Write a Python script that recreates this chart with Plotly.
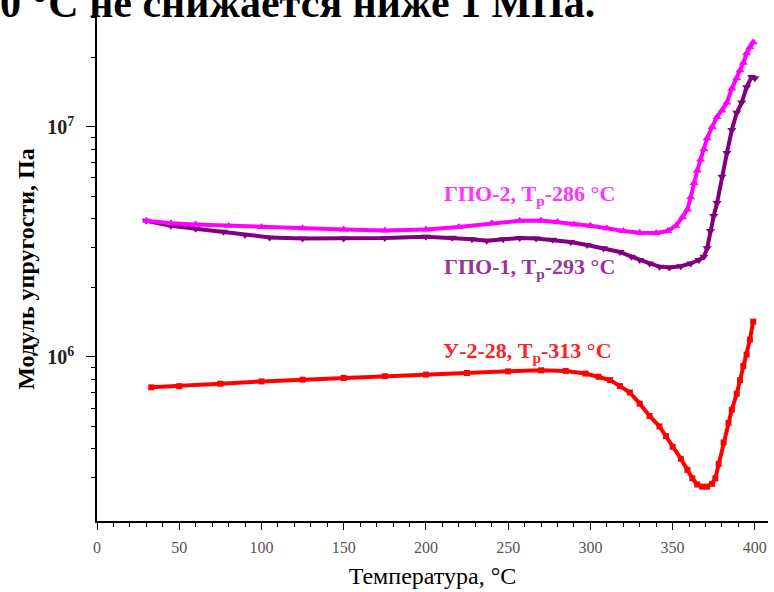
import plotly.graph_objects as go

# --- data ---
t_u228 = [33, 50, 75, 100, 125, 150, 175, 200, 225, 250, 270, 285, 297, 305, 312, 318,
          324, 330, 336, 342, 346, 350, 355, 359, 362, 365, 368, 371, 374, 376, 378, 381,
          384, 386, 389, 391, 393, 395, 397, 399]
e_u228 = [7.38e5, 7.47e5, 7.65e5, 7.83e5, 7.97e5, 8.11e5, 8.25e5, 8.38e5, 8.52e5, 8.66e5,
          8.75e5, 8.7e5, 8.47e5, 8.2e5, 7.93e5, 7.47e5, 7.01e5, 6.27e5, 5.54e5, 4.99e5,
          4.53e5, 4.07e5, 3.61e5, 3.23e5, 2.97e5, 2.79e5, 2.73e5, 2.73e5, 2.81e5, 2.97e5,
          3.43e5, 4.25e5, 5.17e5, 5.9e5, 6.92e5, 7.93e5, 9.14e5, 1.025e6, 1.19e6, 1.425e6]

t_gpo2 = [30, 45, 60, 80, 100, 125, 150, 175, 200, 220, 240, 257, 270, 280, 290, 300, 310,
          320, 330, 340, 347, 352, 356, 359, 361, 363, 365, 367, 369, 371, 374, 377, 380,
          383, 386, 389, 391, 393, 395, 397, 399]
e_gpo2 = [3.91e6, 3.81e6, 3.77e6, 3.72e6, 3.67e6, 3.63e6, 3.58e6, 3.55e6, 3.58e6, 3.67e6,
          3.81e6, 3.91e6, 3.92e6, 3.86e6, 3.77e6, 3.72e6, 3.63e6, 3.53e6, 3.47e6, 3.46e6,
          3.53e6, 3.72e6, 4.05e6, 4.38e6, 4.95e6, 5.71e6, 6.47e6, 7.22e6, 7.99e6, 8.94e6,
          9.99e6, 1.105e7, 1.18e7, 1.277e7, 1.468e7, 1.63e7, 1.765e7, 1.9e7, 2.09e7,
          2.22e7, 2.335e7]

t_gpo1 = [30, 45, 60, 77, 90, 105, 125, 150, 175, 200, 216, 228, 237, 247, 257, 267, 277,
          288, 298, 308, 318, 325, 330, 336, 342, 348, 355, 361, 366, 369, 371, 373, 375,
          377, 380, 383, 386, 389, 392, 395, 398, 400]
e_gpo1 = [3.91e6, 3.72e6, 3.61e6, 3.5e6, 3.39e6, 3.31e6, 3.27e6, 3.27e6, 3.29e6, 3.33e6,
          3.3e6, 3.25e6, 3.2e6, 3.25e6, 3.29e6, 3.27e6, 3.23e6, 3.16e6, 3.07e6, 2.97e6,
          2.86e6, 2.73e6, 2.64e6, 2.55e6, 2.47e6, 2.45e6, 2.48e6, 2.55e6, 2.64e6, 2.73e6,
          2.97e6, 3.53e6, 4.1e6, 4.67e6, 6.08e6, 7.7e6, 9.7e6, 1.152e7, 1.277e7, 1.487e7,
          1.65e7, 1.63e7]

x_ticks = [0, 50, 100, 150, 200, 250, 300, 350, 400]
y_ticks = [1e6, 1e7]
y_ticktext = ["10<sup>6</sup>", "10<sup>7</sup>"]
y_minor = [3e5, 4e5, 5e5, 6e5, 7e5, 8e5, 9e5,
           2e6, 3e6, 4e6, 5e6, 6e6, 7e6, 8e6, 9e6, 2e7, 3e7]

SERIF = "Liberation Serif, Times New Roman, serif"
MAGENTA = "#ff00ff"
PURPLE = "#800080"
RED = "#ff0000"

fig = go.Figure()
fig.add_trace(go.Scatter(x=t_u228, y=e_u228, mode="lines+markers",
                         line=dict(color=RED, width=4),
                         marker=dict(symbol="square", size=6, color=RED)))
fig.add_trace(go.Scatter(x=t_gpo1, y=e_gpo1, mode="lines+markers",
                         line=dict(color=PURPLE, width=4),
                         marker=dict(symbol="triangle-down", size=8, color=PURPLE)))
fig.add_trace(go.Scatter(x=t_gpo2, y=e_gpo2, mode="lines+markers",
                         line=dict(color=MAGENTA, width=4),
                         marker=dict(symbol="triangle-up", size=8, color=MAGENTA)))

labels = [
    (0.645, 0.647, "ГПО-2, Т<sub>р</sub>-286 °C", "#ff33ff"),
    (0.645, 0.502, "ГПО-1, Т<sub>р</sub>-293 °C", "#993399"),
    (0.642, 0.335, "У-2-28, Т<sub>р</sub>-313 °C", "#ff2222"),
]
for x, y, txt, col in labels:
    fig.add_annotation(x=x, y=y, xref="paper", yref="paper", text=txt, showarrow=False,
                       font=dict(family=SERIF, size=22, color=col, weight="bold"))

fig.add_annotation(x=-0.147, y=1, xref="paper", yref="paper", xanchor="left",
                   yanchor="bottom", yshift=-11, showarrow=False,
                   text="0 °С не снижается ниже 1 МПа.",
                   font=dict(family=SERIF, size=42, color="black", weight="bold"))

fig.update_layout(
    width=774, height=592, showlegend=False,
    margin=dict(l=97, r=6, t=17, b=71),
    paper_bgcolor="white", plot_bgcolor="white",
    xaxis=dict(range=[0, 408], tickvals=x_ticks, ticks="outside", ticklen=7,
               tickwidth=1.3, tickcolor="black", showline=True, linecolor="black",
               linewidth=1.5, showgrid=False, zeroline=False, ticklabelstandoff=4,
               minor=dict(dtick=10, tick0=0, ticks="outside", ticklen=4, tickcolor="black"),
               tickfont=dict(family=SERIF, size=16, color="#555"),
               title=dict(text="Температура, °C", standoff=12,
                          font=dict(family=SERIF, size=24, color="black"))),
    yaxis=dict(type="log", range=[5.287, 7.478], tickvals=y_ticks, ticktext=y_ticktext,
               ticks="outside", ticklen=9, tickwidth=1.3, tickcolor="black",
               showline=True, linecolor="black", linewidth=1.5, showgrid=False,
               zeroline=False, ticklabelstandoff=8,
               minor=dict(tickmode="array", tickvals=y_minor, ticks="outside",
                          ticklen=4, tickcolor="black"),
               tickfont=dict(family=SERIF, size=20, color="#222", weight="bold"),
               title=dict(text="Модуль упругости, Па", standoff=6,
                          font=dict(family=SERIF, size=24, color="black", weight="bold"))),
)

fig.write_html("out.html")
